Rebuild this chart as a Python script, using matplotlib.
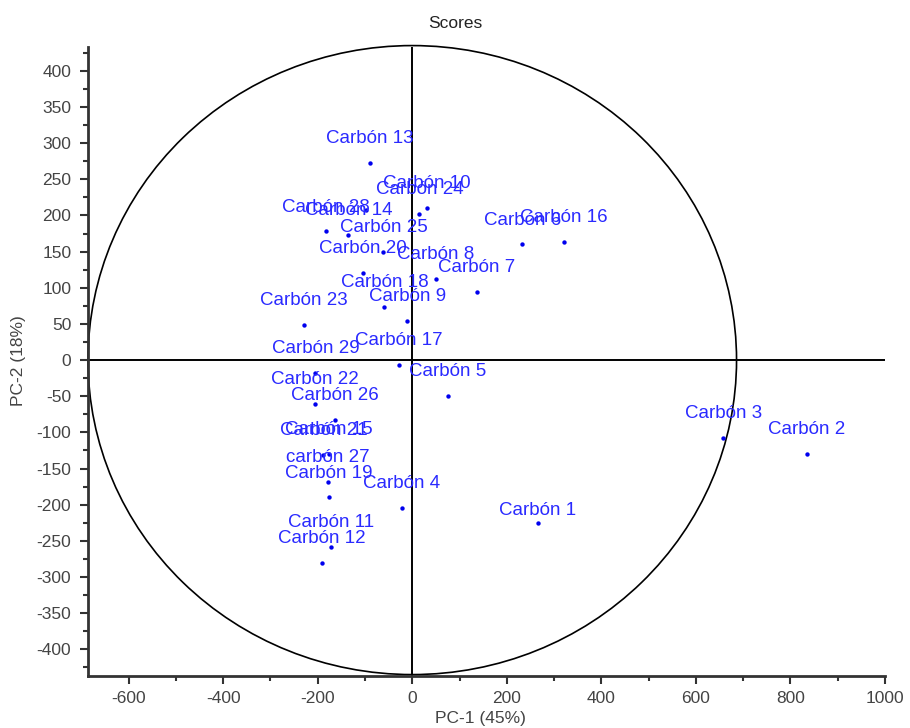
import numpy as np
import matplotlib
matplotlib.use("Agg")
import matplotlib.pyplot as plt
from matplotlib.patches import Ellipse
from matplotlib.ticker import MultipleLocator

plt.rcParams['font.family'] = ['Liberation Sans', 'DejaVu Sans']
plt.rcParams['axes.unicode_minus'] = False

# PCA scores (PC-1, PC-2) per sample
names = ["Carbón 1", "Carbón 2", "Carbón 3", "Carbón 4", "Carbón 5",
         "Carbón 6", "Carbón 7", "Carbón 8", "Carbón 9", "Carbón 10",
         "Carbón 11", "Carbón 12", "Carbón 13", "Carbón 14", "Carbón 15",
         "Carbón 16", "Carbón 17", "Carbón 18", "Carbón 19", "Carbón 20",
         "Carbón 21", "Carbón 22", "Carbón 23", "Carbón 24", "Carbón 25",
         "Carbón 26", "carbón 27", "Carbón 28", "Carbón 29", ""]
pc1 = [265, 834, 658, -22, 75,
       233, 137, 50, -11, 31,
       -172, -191, -90, -135, -176,
       320, -29, -59, -176, -104,
       -188, -205, -229, 15, -61,
       -163, -178, -182, -205, -97]
pc2 = [-225, -130, -108, -204, -50,
       160, 94, 112, 54, 211,
       -258, -281, 273, 173, -130,
       163, -7, 74, -190, 121,
       -131, -61, 49, 202, 150,
       -83, -168, 178, -18, 208]

# ellipse semi-axes
ell_a = 686
ell_b = 435

# labels normally sit above the dot; a few are closer
lift = {"Carbón 1": 9}

fig = plt.figure(figsize=(9.1, 7.28), dpi=100)
ax = fig.add_axes([0.0967, 0.0714, 0.8758, 0.864])

ax.add_patch(Ellipse((0, 0), 2 * ell_a, 2 * ell_b, fill=False,
                     edgecolor='black', linewidth=1.2, zorder=2,
                     clip_on=False))
ax.axhline(0, color='black', linewidth=1.4, zorder=2)
ax.axvline(0, color='black', linewidth=1.4, zorder=2)

ax.scatter(pc1, pc2, s=10, color='#0000ee', zorder=3, linewidths=0)
for n, x, y in zip(names, pc1, pc2):
    if not n:
        continue
    ax.annotate(n, (x, y), xytext=(0, lift.get(n, 17.5)),
                textcoords='offset points', ha='center', va='center',
                fontsize=13.5, color='#2a2aff', zorder=4)

ax.set_xlim(-686, 1000)
ax.set_ylim(-437, 433)

ax.xaxis.set_major_locator(MultipleLocator(200))
ax.xaxis.set_minor_locator(MultipleLocator(100))
ax.yaxis.set_major_locator(MultipleLocator(50))
ax.yaxis.set_minor_locator(MultipleLocator(25))

for s in ['top', 'right']:
    ax.spines[s].set_visible(False)
for s in ['left', 'bottom']:
    ax.spines[s].set_linewidth(2)
    ax.spines[s].set_color('#333333')

ax.tick_params(which='major', direction='out', length=6, width=1.5,
               color='#333333', labelsize=12.5, labelcolor='#444444')
ax.tick_params(which='minor', direction='out', length=3.5, width=1.5,
               color='#333333')
ax.tick_params(axis='y', pad=6)
ax.tick_params(axis='x', pad=5)

fig.text(0.5, 0.968, "Scores", ha='center', va='center', fontsize=12.5,
         color='#222222')
fig.text(0.528, 0.013, "PC-1 (45%)", ha='center', va='center',
         fontsize=12.5, color='#444444')
fig.text(0.02, 0.505, "PC-2 (18%)", ha='center', va='center',
         rotation=90, fontsize=12.5, color='#444444')

fig.savefig("out.png", dpi=100)
